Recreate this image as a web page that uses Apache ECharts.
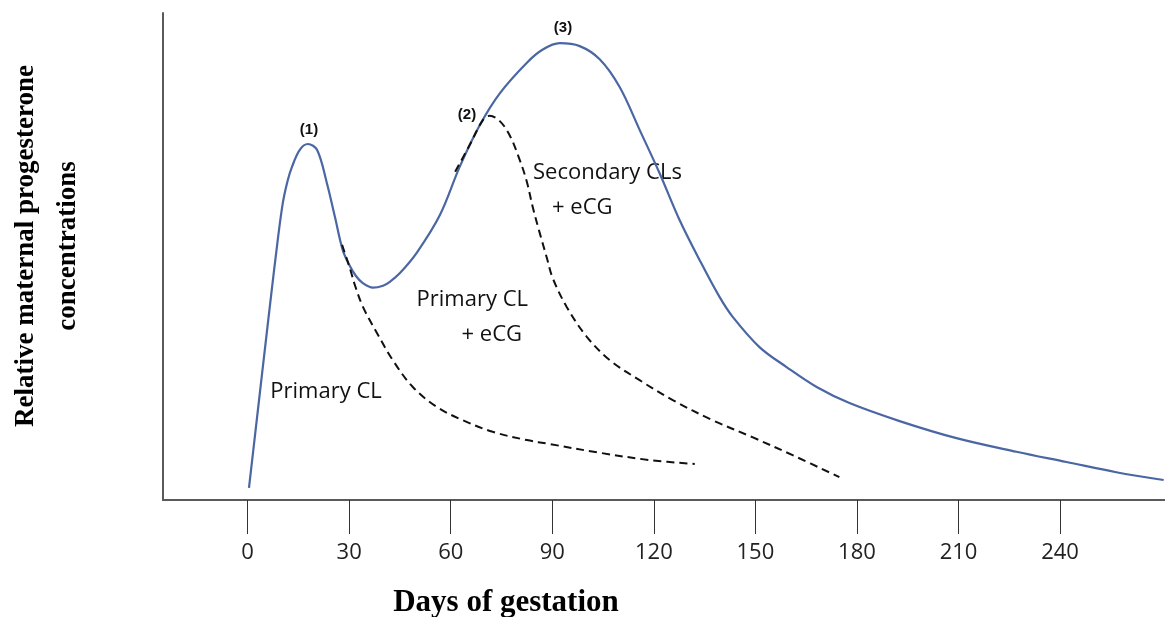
<!DOCTYPE html>
<html>
<head>
<meta charset="utf-8">
<script src="https://cdn.jsdelivr.net/npm/echarts@6/dist/echarts.min.js"></script>
<style>html,body{margin:0;padding:0;background:#fff}#c{width:1165px;height:617px}</style>
</head>
<body>
<div id="c"></div>
<script>
// Days of gestation (x) and relative progesterone level (y, 0-100 scale)
const totalDays = [0.4, 6.6, 8.9, 10.4, 11.8, 13.1, 15.4, 17.8, 20.5, 23.4, 25.8, 28.1, 30.0, 32.0, 34.1, 37.0, 40.0, 42.0, 45.0, 50.0, 56.8, 62.7, 68.6, 74.6, 82.5, 87.2, 92.2, 98.1, 104.0, 109.9, 115.8, 121.7, 127.6, 133.5, 139.4, 143.3, 151.2, 159.2, 168.1, 177.8, 192.6, 209.4, 227.1, 241.9, 256.6, 270.6];
const totalLevel = [2.5, 40.0, 53.4, 61.0, 65.5, 68.4, 71.9, 73.1, 71.9, 65.1, 58.1, 51.3, 48.3, 46.0, 44.5, 43.6, 44.0, 44.8, 46.6, 50.8, 58.5, 68.5, 77.0, 83.6, 89.8, 92.5, 93.8, 93.2, 90.5, 84.8, 76.0, 67.1, 57.5, 49.3, 41.7, 37.6, 31.4, 27.3, 23.2, 19.9, 16.2, 12.7, 9.9, 7.8, 5.7, 4.1];

const primaryDays = [27.9, 30.2, 31.7, 34.1, 38.2, 42.9, 48.8, 55.9, 63.5, 72.4, 82.5, 89.2, 104.0, 118.8, 132.1];
const primaryLevel = [52.4, 47.6, 44.1, 39.6, 34.3, 28.7, 23.2, 19.1, 16.4, 14.0, 12.3, 11.5, 9.7, 8.2, 7.4];

const primaryEcgDays = [61.3, 65.6, 69.5, 71.5, 74.5, 77.4, 80.4, 82.5, 84.2, 86.3, 88.4, 90.1, 94.3, 100.2, 107.0, 115.8, 125.6, 137.3, 149.1, 161.0, 174.8];
const primaryEcgLevel = [67.4, 72.9, 78.0, 78.9, 77.8, 74.9, 69.8, 65.3, 60.2, 54.8, 49.7, 45.6, 39.6, 33.5, 28.7, 24.6, 20.5, 16.4, 12.9, 9.2, 4.7];

const tickDays = [0, 30, 60, 90, 120, 150, 180, 210, 240];

const xTitle = 'Days of gestation';
const yTitle = 'Relative maternal progesterone\nconcentrations';

const zip = (a, b) => a.map((v, i) => [v, b[i]]);

const chart = echarts.init(document.getElementById('c'), null, {renderer: 'canvas'});
const axisColor = '#5a5a5a';
chart.setOption({
  animation: false,
  backgroundColor: '#fff',
  grid: {left: 163, right: 0, top: 13, bottom: 117, containLabel: false},
  xAxis: {
    type: 'value', min: -25, max: 271,
    axisLine: {show: true, onZero: false, lineStyle: {color: axisColor, width: 2}},
    axisTick: {show: true, customValues: tickDays, length: 34, lineStyle: {color: '#333', width: 1}},
    axisLabel: {show: true, customValues: tickDays, margin: 42, fontFamily: 'Open Sans', fontSize: 22, color: '#222'},
    splitLine: {show: false}
  },
  yAxis: {
    type: 'value', min: 0, max: 100,
    axisLine: {show: true, onZero: false, lineStyle: {color: axisColor, width: 2}},
    axisTick: {show: false}, axisLabel: {show: false}, splitLine: {show: false}
  },
  series: [
    {type: 'line', data: zip(totalDays, totalLevel), smooth: 0.35, showSymbol: false,
     lineStyle: {color: '#4a66a3', width: 2.2}, z: 3},
    {type: 'line', data: zip(primaryDays, primaryLevel), smooth: 0.35, showSymbol: false,
     lineStyle: {color: '#111', width: 2, type: [8, 5]}, z: 4},
    {type: 'line', data: zip(primaryEcgDays, primaryEcgLevel), smooth: 0.35, showSymbol: false,
     lineStyle: {color: '#111', width: 2, type: [8, 5]}, z: 4}
  ],
  graphic: [
    {type: 'text', x: 506, y: 603, style: {text: xTitle, font: 'bold 31px "Liberation Serif"', fill: '#000', align: 'center', verticalAlign: 'middle'}},
    {type: 'text', x: 47, y: 246, rotation: Math.PI / 2, style: {text: yTitle, font: 'bold 27px "Liberation Serif"', lineHeight: 42, fill: '#000', align: 'center', verticalAlign: 'middle'}},
    {type: 'text', x: 309, y: 130, style: {text: '(1)', font: 'bold 15px "Liberation Sans"', fill: '#111', align: 'center', verticalAlign: 'middle'}},
    {type: 'text', x: 467, y: 115, style: {text: '(2)', font: 'bold 15px "Liberation Sans"', fill: '#111', align: 'center', verticalAlign: 'middle'}},
    {type: 'text', x: 563, y: 28, style: {text: '(3)', font: 'bold 15px "Liberation Sans"', fill: '#111', align: 'center', verticalAlign: 'middle'}},
    {type: 'text', x: 326, y: 392, style: {text: 'Primary CL', font: '22px "Open Sans"', fill: '#111', align: 'center', verticalAlign: 'middle'}},
    {type: 'text', x: 528, y: 300, style: {text: 'Primary CL', font: '22px "Open Sans"', fill: '#111', align: 'right', verticalAlign: 'middle'}},
    {type: 'text', x: 522, y: 335, style: {text: '+ eCG', font: '22px "Open Sans"', fill: '#111', align: 'right', verticalAlign: 'middle'}},
    {type: 'text', x: 533, y: 173, style: {text: 'Secondary CLs', font: '22px "Open Sans"', fill: '#111', align: 'left', verticalAlign: 'middle'}},
    {type: 'text', x: 552, y: 208, style: {text: '+ eCG', font: '22px "Open Sans"', fill: '#111', align: 'left', verticalAlign: 'middle'}}
  ]
});
</script>
</body>
</html>
